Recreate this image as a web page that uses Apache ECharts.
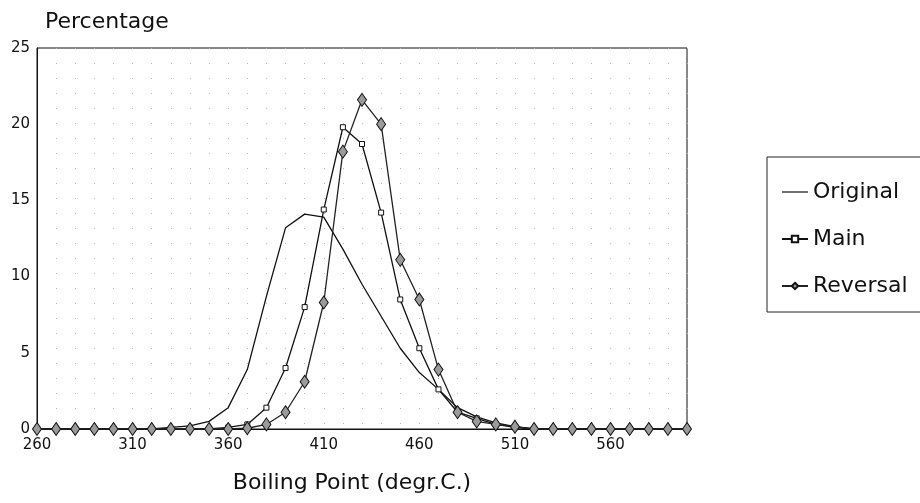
<!DOCTYPE html>
<html>
<head>
<meta charset="utf-8">
<script src="https://cdn.jsdelivr.net/npm/echarts@6/dist/echarts.min.js"></script>
<style>
	html, body { margin: 0; padding: 0; background: #fff; }
	#chart { width: 920px; height: 503px; }
</style>
</head>
<body>
<div id="chart"></div>
<script>
// boiling point classes, degr.C
const temps = [260, 270, 280, 290, 300, 310, 320, 330, 340, 350, 360, 370, 380, 390, 400, 410, 420,
	430, 440, 450, 460, 470, 480, 490, 500, 510, 520, 530, 540, 550, 560, 570, 580, 590, 600];

// percentage per class
const original = [0, 0, 0, 0, 0, 0, 0, 0.1, 0.2, 0.5, 1.4, 3.9, 8.7, 13.2, 14.1, 13.9, 11.8,
	9.5, 7.4, 5.3, 3.7, 2.6, 1.4, 0.8, 0.4, 0.15, 0, 0, 0, 0, 0, 0, 0, 0, 0];
const main = [0, 0, 0, 0, 0, 0, 0, 0, 0, 0, 0.1, 0.3, 1.4, 4.0, 8.0, 14.4, 19.8,
	18.7, 14.2, 8.5, 5.3, 2.6, 1.1, 0.7, 0.3, 0.1, 0, 0, 0, 0, 0, 0, 0, 0, 0];
const reversal = [0, 0, 0, 0, 0, 0, 0, 0, 0, 0, 0, 0.05, 0.3, 1.1, 3.1, 8.3, 18.2,
	21.6, 20.0, 11.1, 8.5, 3.9, 1.1, 0.5, 0.3, 0.15, 0, 0, 0, 0, 0, 0, 0, 0, 0];

const yTicks = [0, 5, 10, 15, 20, 25];

const FONT = 'DejaVu Sans';
const myChart = echarts.init(document.getElementById('chart'));

const option = {
	animation: false,
	backgroundColor: '#fff',
	title: {
		text: 'Percentage',
		left: 40,
		top: 6,
		textStyle: { fontFamily: FONT, fontSize: 22, fontWeight: 'normal', color: '#111' }
	},
	legend: {
		orient: 'vertical',
		left: 767,
		top: 157,
		padding: [22, 60, 13, 14],
		itemGap: 21,
		itemWidth: 26,
		itemHeight: 8,
		borderColor: '#222',
		borderWidth: 1,
		textStyle: { fontFamily: FONT, fontSize: 22, lineHeight: 26, color: '#111' },
		data: [
			// plain line, no marker
			{ name: 'Original', icon: 'path://M0,0H26V1.2H0Z' },
			{ name: 'Main' },
			{ name: 'Reversal' }
		]
	},
	grid: {
		left: 37,
		right: 233,
		top: 48,
		bottom: 74,
		show: true,
		borderColor: '#111',
		borderWidth: 1
	},
	xAxis: {
		type: 'category',
		data: temps.map(String),
		boundaryGap: false,
		name: 'Boiling Point (degr.C.)',
		nameLocation: 'middle',
		nameGap: 43,
		nameTextStyle: { fontFamily: FONT, fontSize: 22, color: '#111', padding: [0, 20, 0, 0] },
		axisLine: { lineStyle: { color: '#111' } },
		axisTick: { show: false },
		axisLabel: { interval: 4, margin: 9, fontFamily: FONT, fontSize: 15, color: '#111' },
		splitLine: {
			show: true,
			interval: 0,
			lineStyle: { color: '#bbb', type: [1, 14], width: 1 }
		}
	},
	yAxis: {
		type: 'value',
		min: yTicks[0],
		max: yTicks[yTicks.length - 1],
		interval: 5,
		axisLine: { show: true, lineStyle: { color: '#111' } },
		axisTick: { show: false },
		axisLabel: { margin: 7, fontFamily: FONT, fontSize: 15, color: '#111' },
		splitLine: { show: false }
	},
	series: [
		{
			name: 'Original',
			type: 'line',
			data: original,
			symbol: 'none',
			lineStyle: { color: '#111', width: 1.3 },
			itemStyle: { color: '#111' },
			z: 2
		},
		{
			name: 'Main',
			type: 'line',
			data: main,
			symbol: 'rect',
			symbolSize: 5,
			showAllSymbol: true,
			lineStyle: { color: '#111', width: 1.3 },
			itemStyle: { color: '#fff', borderColor: '#111', borderWidth: 1 },
			z: 3
		},
		{
			name: 'Reversal',
			type: 'line',
			data: reversal,
			symbol: 'diamond',
			symbolSize: [9, 13],
			showAllSymbol: true,
			lineStyle: { color: '#222', width: 1.3 },
			itemStyle: { color: '#9a9a9a', borderColor: '#111', borderWidth: 1 },
			z: 4
		}
	]
};

myChart.setOption(option);
</script>
</body>
</html>
